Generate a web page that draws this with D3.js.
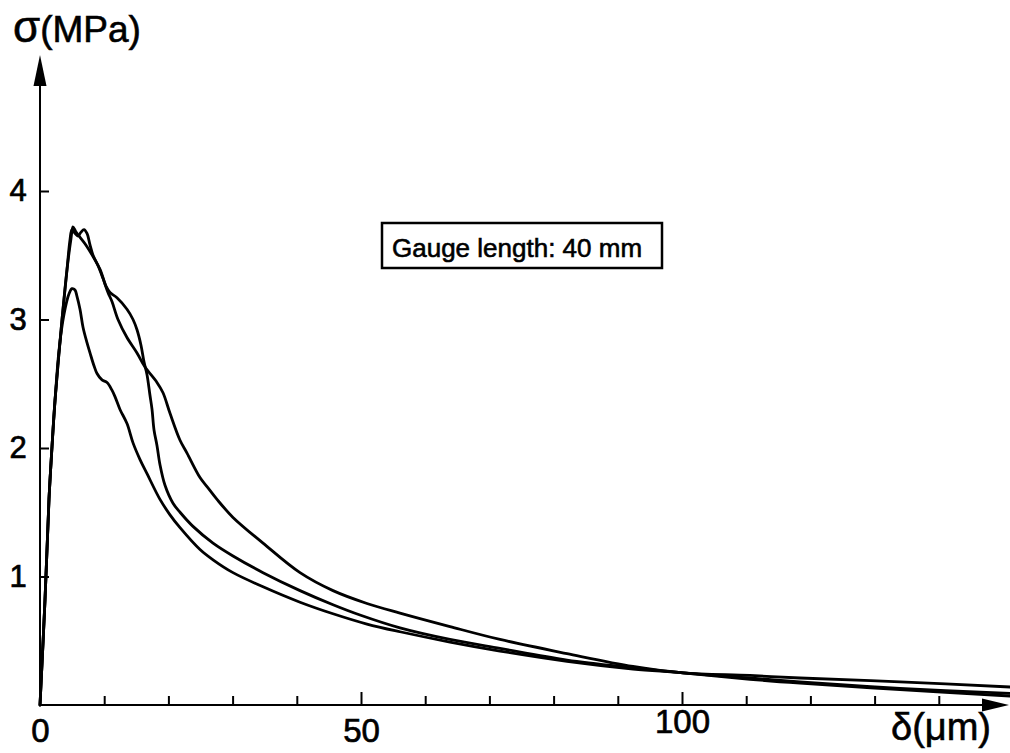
<!DOCTYPE html>
<html><head><meta charset="utf-8">
<script src="https://cdn.jsdelivr.net/npm/d3@7"></script>
<style>
html,body{margin:0;padding:0;background:#fff;}
svg{display:block;}
text{font-family:"Liberation Sans",Arial,sans-serif;fill:#000;}
</style>
</head><body>
<svg id="c" width="1010" height="753"></svg>
<script>
// ---- data (δ in µm, σ in MPa) ----
const xMajorTicks = [0, 50, 100];
const xMinorTicks = [10, 20, 30, 40, 60, 70, 80, 90, 110, 120, 130, 140];
const yTicks = [1, 2, 3, 4];
const yLabel = "(MPa)";
const xLabel = "δ(μm)";
const boxLabel = "Gauge length: 40 mm";

// lower-peak curve
const dL = [0,0.78,1.40,1.87,2.34,2.96,3.74,4.52,4.98,5.45,5.76,6.23,6.70,7.32,7.79,8.41,8.88,9.66,10.44,11.21,11.68,12.46,13.55,14.49,15.58,16.67,18.69,20.25,21.81,24.92,26.95,30.06,34.74,40.50,45.64,50.93,56.07,63.86,71.65,82.09,92.37,100.16,110.59,118.38,133.96,151.09];
const sL = [0,0.82,1.60,2.01,2.37,2.76,3.04,3.20,3.24,3.23,3.18,3.08,2.94,2.82,2.74,2.64,2.58,2.53,2.51,2.45,2.40,2.30,2.19,2.04,1.91,1.80,1.60,1.48,1.38,1.21,1.13,1.03,0.92,0.80,0.71,0.63,0.57,0.49,0.42,0.34,0.28,0.25,0.20,0.17,0.12,0.07];

// tall curve with steep drop
const dM = [0,0.78,1.40,1.87,2.34,3.43,4.21,4.83,5.14,5.61,6.07,7.01,8.26,9.35,10.28,10.90,11.99,13.55,14.49,15.11,15.73,16.20,16.67,17.13,17.45,17.76,18.22,18.69,19.47,20.72,21.81,23.83,26.95,30.06,34.74,40.50,45.64,49.84,56.07,63.86,71.65,82.09,92.37,100.16,110.59,118.38,133.96,151.09];
const sM = [0,0.82,1.60,2.01,2.37,3.00,3.39,3.63,3.72,3.68,3.65,3.59,3.49,3.39,3.26,3.21,3.17,3.08,3.00,2.92,2.80,2.67,2.57,2.41,2.30,2.14,2.02,1.87,1.71,1.57,1.50,1.39,1.26,1.16,1.03,0.89,0.78,0.70,0.60,0.51,0.44,0.35,0.29,0.25,0.21,0.18,0.13,0.09];

// tall curve with double hump, highest tail
const dU = [0,0.78,1.40,1.87,2.34,3.43,4.21,4.67,4.98,5.45,5.92,6.39,6.85,7.32,7.79,8.26,9.03,9.81,10.59,11.21,12.15,13.55,15.11,16.36,18.22,19.16,20.25,21.81,22.90,24.92,26.01,27.57,30.06,34.74,40.50,45.64,50.93,56.07,63.86,71.65,82.09,92.37,100.16,110.59,118.38,133.96,151.09];
const sU = [0,0.82,1.60,2.01,2.37,3.00,3.39,3.62,3.70,3.67,3.65,3.68,3.70,3.67,3.58,3.50,3.42,3.32,3.21,3.14,3.00,2.86,2.74,2.63,2.51,2.43,2.27,2.06,1.96,1.77,1.70,1.60,1.46,1.26,1.03,0.89,0.79,0.715,0.61,0.51,0.40,0.30,0.25,0.23,0.21,0.18,0.14];

const series = [[dL, sL], [dM, sM], [dU, sU]];

// ---- layout ----
const svg = d3.select("#c");
const x = d3.scaleLinear().domain([0, 100]).range([40, 682]);
const y = d3.scaleLinear().domain([0, 4]).range([705, 191]);
const x0 = x(0), y0 = y(0);
const xEnd = 1009, yTop = 55;
const FONT = "Liberation Sans, Arial, sans-serif";

// axes lines with arrows
svg.append("line").attr("x1", x0).attr("y1", y0).attr("x2", xEnd - 20).attr("y2", y0)
  .attr("stroke", "#000").attr("stroke-width", 2);
svg.append("line").attr("x1", x0).attr("y1", y0 + 1).attr("x2", x0).attr("y2", yTop + 20)
  .attr("stroke", "#000").attr("stroke-width", 2);
svg.append("path").attr("d", `M${xEnd},${y0} L${xEnd - 27},${y0 - 6.5} L${xEnd - 27},${y0 + 6.5} Z`).attr("fill", "#000");
svg.append("path").attr("d", `M${x0},${yTop} L${x0 - 6.5},${yTop + 31} L${x0 + 6.5},${yTop + 31} Z`).attr("fill", "#000");

// x major ticks + labels
const gxMaj = svg.append("g").attr("transform", `translate(0,${y0})`)
  .call(d3.axisBottom(x).tickValues(xMajorTicks).tickFormat(d3.format("d")).tickSizeInner(-13).tickSizeOuter(0).tickPadding(14));
gxMaj.select(".domain").remove();
gxMaj.selectAll(".tick line").attr("stroke", "#000").attr("stroke-width", 2);
gxMaj.selectAll(".tick text").attr("font-size", 33).attr("font-family", FONT).attr("fill", "#000")
  .attr("stroke", "#000").attr("stroke-width", 0.7)
  .attr("dy", (d) => d === 100 ? "0.42em" : "0.70em");
gxMaj.selectAll(".tick").filter(d => d === 0).select("line").remove();

// x minor ticks
const gxMin = svg.append("g").attr("transform", `translate(0,${y0})`)
  .call(d3.axisBottom(x).tickValues(xMinorTicks).tickFormat("").tickSizeInner(-9).tickSizeOuter(0));
gxMin.select(".domain").remove();
gxMin.selectAll(".tick line").attr("stroke", "#000").attr("stroke-width", 2);

// y ticks + labels
const gy = svg.append("g").attr("transform", `translate(${x0},0)`)
  .call(d3.axisLeft(y).tickValues(yTicks).tickFormat(d3.format("d")).tickSizeInner(-9).tickSizeOuter(0).tickPadding(22));
gy.select(".domain").remove();
gy.selectAll(".tick line").attr("stroke", "#000").attr("stroke-width", 2);
gy.selectAll(".tick text").attr("font-size", 31).attr("font-family", FONT)
  .attr("fill", "#000").attr("stroke", "#000").attr("stroke-width", 0.7)
  .attr("text-anchor", "middle").attr("x", -22);

// axis titles
const yt = svg.append("text").attr("x", 13).attr("y", 42).attr("font-size", 37)
  .attr("stroke", "#000").attr("stroke-width", 0.6);
yt.append("tspan").attr("font-size", 44).text("σ");
yt.append("tspan").text(yLabel);
svg.append("text").attr("x", 891).attr("y", 740).attr("font-size", 38)
  .attr("stroke", "#000").attr("stroke-width", 0.6).text(xLabel);

// label box
svg.append("rect").attr("x", 382).attr("y", 223).attr("width", 280).attr("height", 45)
  .attr("fill", "#fff").attr("stroke", "#000").attr("stroke-width", 2.5);
svg.append("text").attr("x", 392).attr("y", 257).attr("font-size", 26)
  .attr("stroke", "#000").attr("stroke-width", 0.6).text(boxLabel);

// curves
const line = d3.line().x(d => x(d[0])).y(d => y(d[1])).curve(d3.curveCatmullRom.alpha(0.5));
series.forEach(([ds, ss]) => {
  svg.append("path").datum(ds.map((d, i) => [d, ss[i]]))
    .attr("d", line).attr("fill", "none").attr("stroke", "#000")
    .attr("stroke-width", 2.8).attr("stroke-linejoin", "round").attr("stroke-linecap", "round");
});
</script>
</body></html>
